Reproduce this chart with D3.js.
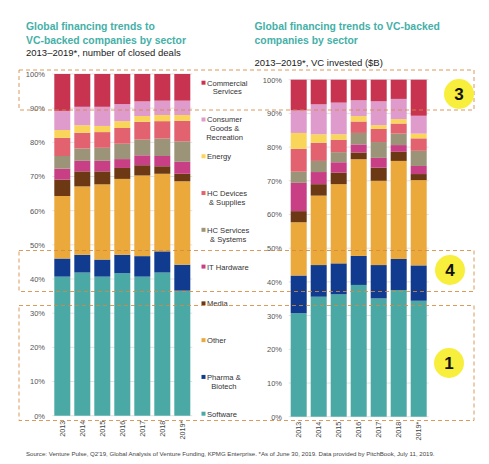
<!DOCTYPE html>
<html>
  <head>
    <meta charset="utf-8">
    <script src="https://d3js.org/d3.v7.min.js"></script>
    <style>
      body { margin: 0; background: #fff; }
      svg { display: block; font-family: "Liberation Sans", Arial, sans-serif; }
    </style>
  </head>
  <body>
    <script>
      // years and sectors (stack order, bottom to top)
      const years = ["2013", "2014", "2015", "2016", "2017", "2018", "2019*"]
      const sectors = ["Software", "Pharma & Biotech", "Other", "Media", "IT Hardware",
        "HC Services & Systems", "HC Devices & Supplies", "Energy",
        "Consumer Goods & Recreation", "Commercial Services"]
      const colors = ["#4aa9a4", "#113b8f", "#eba93b", "#6c3914", "#c93f85",
        "#9b9478", "#e2626f", "#f9d65a", "#df9bcb", "#c8344f"]
      const yTicks = [0, 10, 20, 30, 40, 50, 60, 70, 80, 90, 100]

      // share of closed deals, %
      const dealsSoftware   = [40.7, 41.9, 40.7, 41.7, 40.7, 41.9, 36.6]
      const dealsPharma     = [5.3, 5.2, 5.0, 5.4, 6.0, 6.2, 7.6]
      const dealsOther      = [18.3, 20.0, 22.0, 22.2, 23.6, 22.7, 24.4]
      const dealsMedia      = [4.8, 4.4, 3.8, 3.2, 3.0, 2.2, 2.2]
      const dealsITHardware = [3.2, 3.1, 3.1, 2.6, 2.9, 3.0, 3.5]
      const dealsHCServices = [3.7, 3.6, 3.8, 4.5, 4.6, 5.1, 6.0]
      const dealsHCDevices  = [5.3, 4.6, 4.6, 4.6, 5.2, 5.1, 6.0]
      const dealsEnergy     = [2.3, 2.2, 1.8, 2.0, 1.7, 1.8, 1.7]
      const dealsConsumer   = [5.6, 5.4, 5.6, 5.0, 4.3, 4.2, 4.2]
      const dealsCommercial = [10.8, 9.6, 9.6, 8.8, 8.0, 7.8, 7.8]

      // share of VC invested, %
      const vcSoftware   = [30.7, 35.6, 36.3, 39.1, 35.1, 37.6, 34.4]
      const vcPharma     = [11.2, 9.4, 9.2, 8.6, 9.9, 9.2, 10.5]
      const vcOther      = [15.8, 20.6, 23.5, 28.7, 25.0, 29.1, 25.3]
      const vcMedia      = [3.3, 3.4, 3.4, 2.0, 3.9, 2.7, 1.8]
      const vcITHardware = [8.4, 3.6, 3.1, 2.4, 2.9, 2.0, 2.4]
      const vcHCServices = [3.3, 3.3, 3.0, 3.4, 4.7, 3.4, 4.5]
      const vcHCDevices  = [6.8, 5.4, 3.7, 3.4, 3.9, 3.0, 3.7]
      const vcEnergy     = [4.7, 2.5, 1.6, 1.6, 1.1, 1.3, 1.4]
      const vcConsumer   = [6.7, 8.9, 9.4, 4.7, 7.1, 6.0, 5.3]
      const vcCommercial = [9.1, 7.3, 6.8, 6.1, 6.4, 5.7, 10.7]

      const dealsSeries = [dealsSoftware, dealsPharma, dealsOther, dealsMedia, dealsITHardware,
        dealsHCServices, dealsHCDevices, dealsEnergy, dealsConsumer, dealsCommercial]
      const vcSeries = [vcSoftware, vcPharma, vcOther, vcMedia, vcITHardware,
        vcHCServices, vcHCDevices, vcEnergy, vcConsumer, vcCommercial]

      const legendLabels = [
        ["Commercial", "Services"], ["Consumer", "Goods &", "Recreation"], ["Energy"],
        ["HC Devices", "& Supplies"], ["HC Services", "& Systems"], ["IT Hardware"],
        ["Media"], ["Other"], ["Pharma &", "Biotech"], ["Software"]]
      const legendColors = colors.slice().reverse()

      const w = 489
      const h = 464
      const svg = d3.select("body").append("svg")
        .attr("width", w)
        .attr("height", h)

      const teal = "#45b0a8"

      // titles
      const titles = [
        {x: 26, lines: ["Global financing trends to", "VC-backed companies by sector"],
          sub: "2013\u20132019*, number of closed deals", subY: 55.5},
        {x: 254.5, lines: ["Global financing trends to VC-backed", "companies by sector"],
          sub: "2013\u20132019*, VC invested ($B)", subY: 65.5}
      ]
      titles.forEach(t => {
        t.lines.forEach((l, i) => {
          svg.append("text")
            .attr("x", t.x)
            .attr("y", 29.5 + i * 14)
            .attr("font-size", 10.4)
            .attr("font-weight", "bold")
            .attr("fill", teal)
            .text(l)
        })
        svg.append("text")
          .attr("x", t.x)
          .attr("y", t.subY)
          .attr("font-size", 9.5)
          .attr("fill", "#1a1a1a")
          .text(t.sub)
      })

      const drawChart = function(series, x0, x1, yTop, yBottom, labelX) {
        const table = years.map((yr, i) => {
          const row = {year: yr}
          sectors.forEach((s, k) => { row[s] = series[k][i] })
          return row
        })
        const stacked = d3.stack().keys(sectors)(table)

        const xScale = d3.scaleBand()
          .domain(years)
          .range([x0, x1])
          .paddingInner(0.2)
          .paddingOuter(0.1)
        const yScale = d3.scaleLinear()
          .domain([0, 100])
          .range([yBottom, yTop])

        // gridlines
        svg.append("g")
          .selectAll("line")
          .data(yTicks)
          .enter()
          .append("line")
            .attr("x1", x0)
            .attr("x2", x1)
            .attr("y1", d => yScale(d))
            .attr("y2", d => yScale(d))
            .attr("stroke", "#e2e2e2")
            .attr("stroke-width", 1)

        const yAxis = d3.axisLeft(yScale)
          .tickValues(yTicks)
          .tickFormat(d => d + "%")
          .tickSize(0)
          .tickPadding(0)
        const ya = svg.append("g")
          .attr("transform", "translate(" + labelX + ",0)")
          .call(yAxis)
        ya.select(".domain").remove()
        ya.selectAll("text")
          .attr("font-size", 7.5)
          .attr("font-family", "Liberation Sans, Arial, sans-serif")
          .attr("fill", "#555")

        svg.append("g")
          .selectAll("g")
          .data(stacked)
          .enter()
          .append("g")
            .attr("fill", (d, i) => colors[i])
          .selectAll("rect")
          .data(d => d)
          .enter()
          .append("rect")
            .attr("x", d => xScale(d.data.year))
            .attr("y", d => yScale(d[1]))
            .attr("width", xScale.bandwidth())
            .attr("height", d => yScale(d[0]) - yScale(d[1]))

        const xAxis = d3.axisBottom(xScale).tickSize(0).tickPadding(0)
        const xa = svg.append("g")
          .attr("transform", "translate(0," + (yBottom + 5) + ")")
          .call(xAxis)
        xa.select(".domain").remove()
        xa.selectAll("text")
          .attr("font-size", 7.2)
          .attr("font-family", "Liberation Sans, Arial, sans-serif")
          .attr("fill", "#444")
          .attr("text-anchor", "end")
          .attr("transform", "rotate(-90)")
          .attr("x", 0)
          .attr("y", 0)
          .attr("dy", "0.35em")
      }

      drawChart(dealsSeries, 52.3, 192.3, 74, 415.7, 45)
      drawChart(vcSeries, 288.7, 428.7, 79.7, 416.7, 282)

      // legend
      const legendY = d3.scaleLinear().domain([0, 9]).range([85.7, 416.7])
      legendLabels.forEach((lines, i) => {
        const y = legendY(i)
        svg.append("rect")
          .attr("x", 201.5)
          .attr("y", y - 5)
          .attr("width", 4)
          .attr("height", 4)
          .attr("fill", legendColors[i])
        const first = svg.append("text")
          .attr("x", 207)
          .attr("y", y)
          .attr("font-size", 7.6)
          .attr("fill", "#333")
          .text(lines[0])
        const cx = 207 + first.node().getComputedTextLength() / 2
        lines.slice(1).forEach((l, j) => {
          svg.append("text")
            .attr("x", cx)
            .attr("y", y + 8.7 * (j + 1))
            .attr("font-size", 7.6)
            .attr("fill", "#333")
            .attr("text-anchor", "middle")
            .text(l)
        })
      })

      // dashed highlight boxes
      const boxes = [[70, 110], [250.5, 291.5], [305.5, 420.5]]
      svg.append("g")
        .selectAll("rect")
        .data(boxes)
        .enter()
        .append("rect")
          .attr("x", 19)
          .attr("y", d => d[0])
          .attr("width", 474 - 19)
          .attr("height", d => d[1] - d[0])
          .attr("fill", "none")
          .attr("stroke", "#d4893f")
          .attr("stroke-opacity", 0.85)
          .attr("stroke-width", 1)
          .attr("stroke-dasharray", "4,3")

      // numbered markers
      const markers = [{n: "3", x: 459, y: 94}, {n: "4", x: 450, y: 270}, {n: "1", x: 449, y: 363}]
      markers.forEach(m => {
        svg.append("circle")
          .attr("cx", m.x)
          .attr("cy", m.y)
          .attr("r", 15)
          .attr("fill", "#f8ee3c")
        svg.append("text")
          .attr("x", m.x)
          .attr("y", m.y)
          .attr("dy", "0.36em")
          .attr("text-anchor", "middle")
          .attr("font-size", 17)
          .attr("font-weight", "bold")
          .attr("fill", "#111")
          .text(m.n)
      })

      svg.append("text")
        .attr("x", 26)
        .attr("y", 456)
        .attr("font-size", 6.1)
        .attr("fill", "#444")
        .text("Source: Venture Pulse, Q2'19, Global Analysis of Venture Funding, KPMG Enterprise. *As of June 30, 2019. Data provided by PitchBook, July 11, 2019.")
    </script>
  </body>
</html>
